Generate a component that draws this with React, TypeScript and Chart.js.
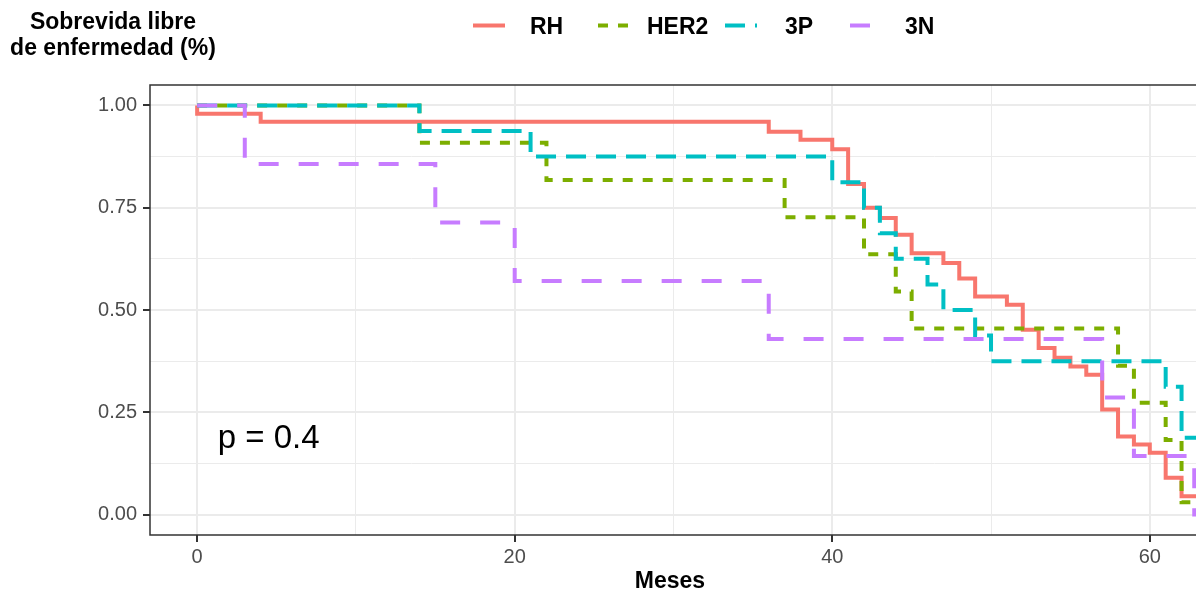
import React, { useEffect, useRef } from "react";
import { Chart, registerables } from "chart.js";
Chart.register(...registerables);

// ---- data ----
const seriesNames = ["RH", "HER2", "3P", "3N"];
const seriesColors = ["#F8766D", "#7CAE00", "#00BFC4", "#C77CFF"];
const seriesDashes = [[], [10, 10], [20, 10], [20, 20]];

const rhTimes = [0, 0, 4, 36, 38, 40, 41, 42, 43, 44, 45, 47, 48, 49, 51, 52, 53, 54, 55, 56, 57, 58, 59, 60, 61, 62, 64];
const rhSurv = [1, 0.98, 0.96, 0.936, 0.916, 0.893, 0.808, 0.75, 0.725, 0.684, 0.639, 0.615, 0.577, 0.533, 0.513, 0.452, 0.407, 0.383, 0.362, 0.342, 0.257, 0.191, 0.171, 0.151, 0.09, 0.045, 0.045];

const her2Times = [0, 14, 22, 37, 42, 44, 45, 58, 59, 61, 62, 64];
const her2Surv = [1, 0.909, 0.818, 0.727, 0.636, 0.545, 0.455, 0.364, 0.273, 0.182, 0.03, 0.03];

const tpTimes = [0, 14, 21, 40, 42, 43, 44, 46, 47, 49, 50, 61, 62, 64];
const tpSurv = [1, 0.9375, 0.875, 0.8125, 0.75, 0.6875, 0.625, 0.5625, 0.5, 0.4375, 0.375, 0.3125, 0.1875, 0.1875];

const tnTimes = [0, 3, 15, 20, 36, 57, 59, 62.8, 64];
const tnSurv = [1, 0.857, 0.714, 0.571, 0.429, 0.286, 0.143, 0, 0];

const xTickValues = [0, 10, 20, 30, 40, 50, 60];
const yTickValues = [0, 0.125, 0.25, 0.375, 0.5, 0.625, 0.75, 0.875, 1];
const xMin = -2.97;
const xMax = 62.91;
const yMin = -0.05;
const yMax = 1.05;

const xTitle = "Meses";
const yTitleLines = ["Sobrevida libre", "de enfermedad (%)"];
const pValueText = "p = 0.4";
const pValueX = 1.3;
const pValueY = 0.163;

const FONT = '"Liberation Sans", Arial, Helvetica, sans-serif';

const allTimes = [rhTimes, her2Times, tpTimes, tnTimes];
const allSurv = [rhSurv, her2Surv, tpSurv, tnSurv];

const isMajorX = (v: number) => Math.abs(v % 20) < 1e-9;
const isMajorY = (v: number) => Math.abs(v * 4 - Math.round(v * 4)) < 1e-9;

const decorPlugin = {
  id: "decor",
  afterDatasetsDraw(chart: any) {
    const { ctx, chartArea: a } = chart;
    ctx.save();
    ctx.setLineDash([]);
    ctx.strokeStyle = "#333333";
    ctx.lineWidth = 1.5;
    ctx.beginPath();
    ctx.moveTo(a.right + 5, a.top);
    ctx.lineTo(a.left, a.top);
    ctx.lineTo(a.left, a.bottom);
    ctx.lineTo(a.right + 5, a.bottom);
    ctx.stroke();

    const xs = chart.scales.x;
    const ys = chart.scales.y;
    ctx.fillStyle = "#000000";
    ctx.font = `33px ${FONT}`;
    ctx.textAlign = "left";
    ctx.textBaseline = "alphabetic";
    ctx.fillText(pValueText, xs.getPixelForValue(pValueX), ys.getPixelForValue(pValueY));
    ctx.restore();
  },
  afterDraw(chart: any) {
    const { ctx } = chart;
    ctx.save();
    // y title (top-left)
    ctx.fillStyle = "#000000";
    ctx.font = `bold 23px ${FONT}`;
    ctx.textAlign = "center";
    ctx.textBaseline = "alphabetic";
    ctx.fillText(yTitleLines[0], 113, 29);
    ctx.fillText(yTitleLines[1], 113, 55);
    // x title
    ctx.fillText(xTitle, 670, 588);

    // legend
    const keyX = [473, 598, 725, 850];
    const textX = [530, 647, 785, 905];
    seriesNames.forEach((name, i) => {
      ctx.save();
      ctx.strokeStyle = seriesColors[i];
      ctx.lineWidth = 4;
      ctx.lineCap = "butt";
      ctx.setLineDash(seriesDashes[i]);
      ctx.beginPath();
      ctx.moveTo(keyX[i], 25.5);
      ctx.lineTo(keyX[i] + 32, 25.5);
      ctx.stroke();
      ctx.restore();
      ctx.fillStyle = "#000000";
      ctx.font = `bold 23px ${FONT}`;
      ctx.textAlign = "left";
      ctx.textBaseline = "alphabetic";
      ctx.fillText(name, textX[i], 34);
    });
    ctx.restore();
  },
};

export default function App() {
  const ref = useRef<HTMLCanvasElement | null>(null);
  useEffect(() => {
    if (!ref.current) return;
    Chart.defaults.font.family = FONT;
    const datasets = seriesNames.map((name, i) => ({
      label: name,
      data: allTimes[i].map((t, j) => ({ x: t, y: allSurv[i][j] })),
      borderColor: seriesColors[i],
      backgroundColor: seriesColors[i],
      borderWidth: 4,
      borderDash: seriesDashes[i],
      borderCapStyle: "butt" as const,
      borderJoinStyle: "miter" as const,
      stepped: "before" as const,
      pointRadius: 0,
      fill: false,
      order: 4 - i,
    }));
    const chart = new Chart(ref.current, {
      type: "line",
      data: { datasets },
      options: {
        animation: false,
        responsive: false,
        devicePixelRatio: 1,
        layout: { padding: { top: 85, left: 0, right: 0, bottom: 0 } },
        plugins: { legend: { display: false }, tooltip: { enabled: false }, title: { display: false } },
        scales: {
          x: {
            type: "linear",
            min: xMin,
            max: xMax,
            afterBuildTicks: (s: any) => {
              s.ticks = xTickValues.map((v) => ({ value: v }));
            },
            afterFit: (s: any) => {
              s.height = 55;
              s.paddingLeft = 0;
              s.paddingRight = 0;
            },
            ticks: {
              autoSkip: false,
              maxRotation: 0,
              color: "#4D4D4D",
              font: { size: 20 },
              padding: 3,
              callback: (v: any) => (isMajorX(Number(v)) ? String(v) : ""),
            },
            grid: {
              color: "#EBEBEB",
              lineWidth: (c: any) => (isMajorX(c.tick?.value ?? 0) ? 2 : 1),
              tickColor: (c: any) => (isMajorX(c.tick?.value ?? 0) ? "#333333" : "rgba(0,0,0,0)"),
              tickLength: 7,
              tickWidth: 2,
            },
            border: { display: false },
          },
          y: {
            type: "linear",
            min: yMin,
            max: yMax,
            afterBuildTicks: (s: any) => {
              s.ticks = yTickValues.map((v) => ({ value: v }));
            },
            afterFit: (s: any) => {
              s.width = 150;
              s.paddingTop = 0;
              s.paddingBottom = 0;
            },
            ticks: {
              autoSkip: false,
              color: "#4D4D4D",
              font: { size: 20 },
              padding: 6,
              callback: (v: any) => (isMajorY(Number(v)) ? Number(v).toFixed(2) : ""),
            },
            grid: {
              color: "#EBEBEB",
              lineWidth: (c: any) => (isMajorY(c.tick?.value ?? 0) ? 2 : 1),
              tickColor: (c: any) => (isMajorY(c.tick?.value ?? 0) ? "#333333" : "rgba(0,0,0,0)"),
              tickLength: 7,
              tickWidth: 2,
            },
            border: { display: false },
          },
        },
      },
      plugins: [decorPlugin],
    });
    return () => chart.destroy();
  }, []);
  return (
    <div style={{ position: "absolute", left: 0, top: 0, width: 1196, height: 590, background: "#ffffff", overflow: "hidden" }}>
      <canvas ref={ref} width={1196} height={590} style={{ width: 1196, height: 590, display: "block" }} />
    </div>
  );
}
